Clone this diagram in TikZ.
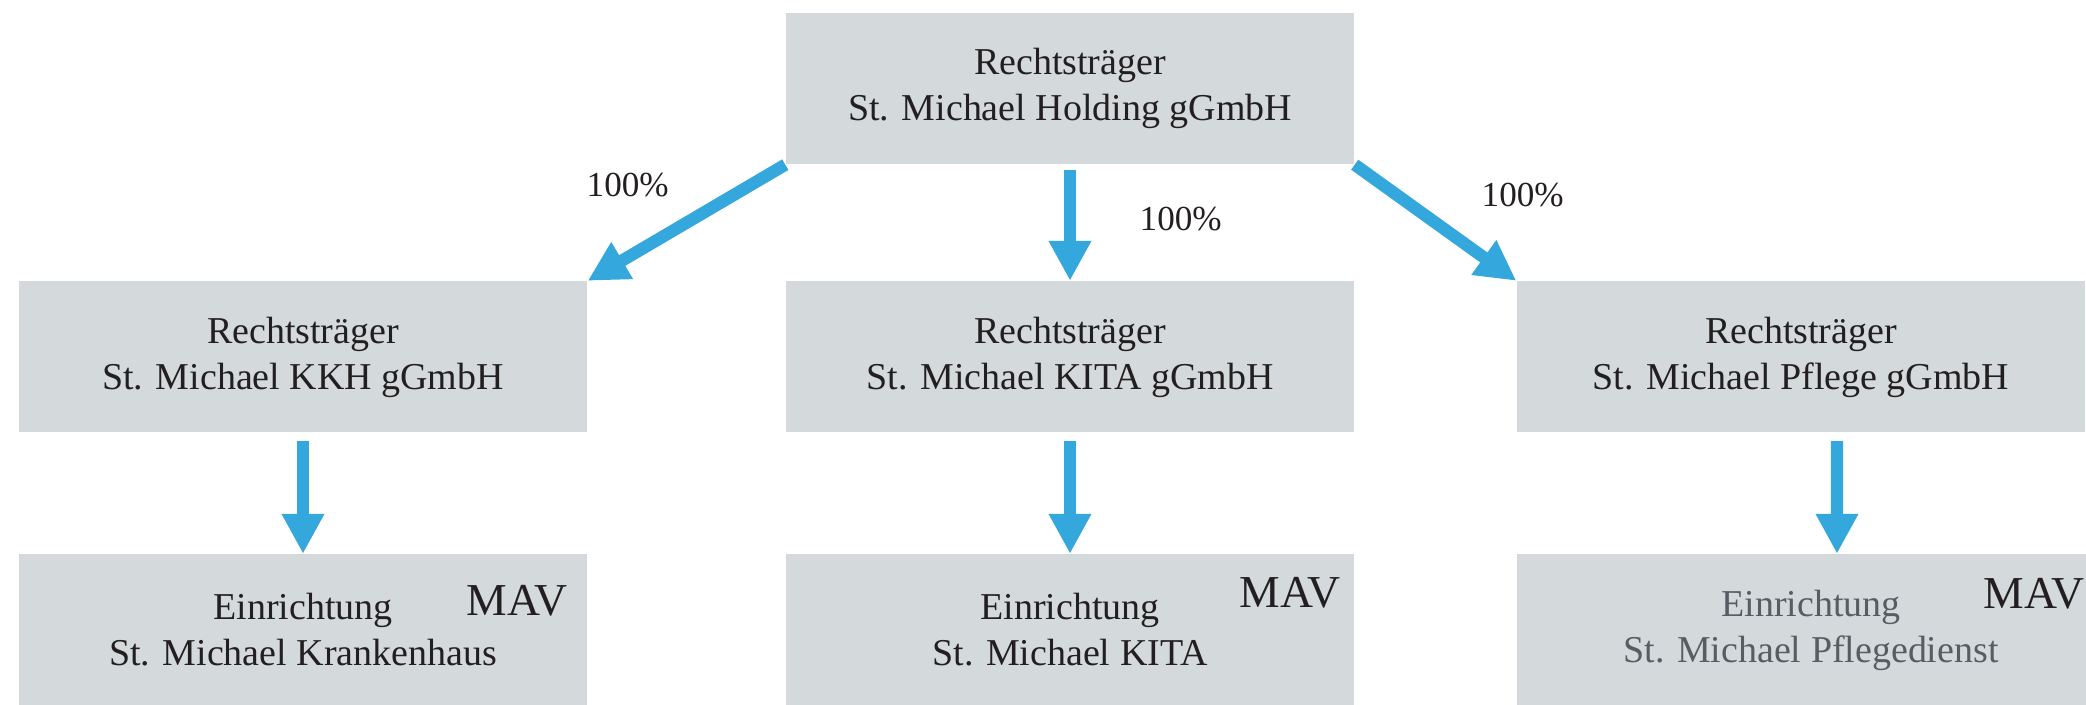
\documentclass[tikz,border=0pt]{standalone}
\usepackage{fontspec}
\setmainfont{Liberation Serif}
\usetikzlibrary{arrows.meta}
\definecolor{boxgrey}{RGB}{212,217,220}
\definecolor{linkblue}{RGB}{52,168,220}
\definecolor{ink}{RGB}{35,31,32}
\definecolor{inkgrey}{RGB}{88,93,100}

\begin{document}
\begin{tikzpicture}[
 box/.style={fill=boxgrey,text=ink,minimum width=5.68cm,minimum height=1.51cm,
        inner sep=0pt,align=center,font=\fontsize{10.8}{13.1}\selectfont},
 link/.style={linkblue,line width=3.5pt,-{Triangle[length=4mm,width=4mm]}},
 pct/.style={text=ink,inner sep=0pt,font=\fontsize{10}{12}\selectfont},
 mav/.style={text=ink,inner sep=0pt,font=\fontsize{13}{15}\selectfont}]

\useasboundingbox (0,0) rectangle (20.86,7.05);

\node[box] (holding) at (10.70,6.165) {Rechtsträger\\St. Michael Holding gGmbH};

\node[box] (kkh) at (3.03,3.48) {Rechtsträger\\St. Michael KKH gGmbH};
\node[box] (kita) at (10.70,3.48) {Rechtsträger\\St. Michael KITA gGmbH};
\node[box] (pflege) at (18.01,3.48) {Rechtsträger\\St. Michael Pflege gGmbH};

\node[box] (krh) at (3.03,0.75) {Einrichtung\\St. Michael Krankenhaus};
\node[box] (kitahaus) at (10.70,0.75) {Einrichtung\\St. Michael KITA};
\node[box,text=inkgrey,minimum width=5.88cm] (pdienst) at (18.11,0.75) {Einrichtung\\St. Michael Pflegedienst};

\node[mav,anchor=base east] (mavkrh) at (5.68,0.89) {MAV};
\node[mav,anchor=base east] (mavkita) at (13.41,0.97) {MAV};
\node[mav,anchor=base west] (mavpflege) at (19.83,0.96) {MAV};

\draw[link] (holding.south west) -- (kkh.north east);
\draw[link] ([yshift=-0.5mm]holding.south) -- (kita.north);
\draw[link] (holding.south east) -- (pflege.north west);

\node[pct,anchor=base west] (pctkkh) at (5.86,5.08) {100\%};
\node[pct,anchor=base west] (pctkita) at (11.39,4.74) {100\%};
\node[pct,anchor=base west] (pctpflege) at (14.81,4.98) {100\%};

\draw[link] ([yshift=-0.8mm]kkh.south) -- (krh.north);
\draw[link] ([yshift=-0.8mm]kita.south) -- (kitahaus.north);
\draw[link] ([xshift=3.6mm,yshift=-0.8mm]pflege.south) -- ([xshift=2.6mm]pdienst.north);
\end{tikzpicture}
\end{document}
